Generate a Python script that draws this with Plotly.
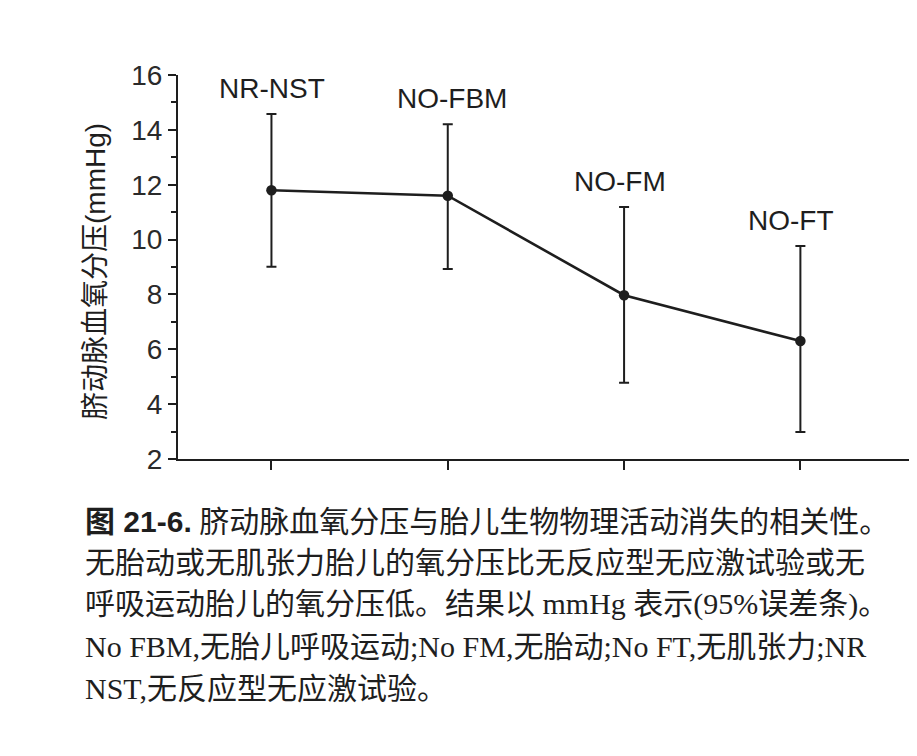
import plotly.graph_objects as go

# ---- data ----
categories = ["NR-NST", "NO-FBM", "NO-FM", "NO-FT"]
means = [11.80, 11.60, 7.97, 6.30]
upper = [14.58, 14.20, 11.19, 9.77]
lower = [9.01, 8.93, 4.78, 2.98]
y_ticks = [2, 4, 6, 8, 10, 12, 14, 16]
y_title = "脐动脉血氧分压(mmHg)"
caption_lines = [
    '<span style="font-family:Liberation Sans,Noto Sans CJK SC;font-weight:bold">图 21-6.</span> 脐动脉血氧分压与胎儿生物物理活动消失的相关性。',
    "无胎动或无肌张力胎儿的氧分压比无反应型无应激试验或无",
    "呼吸运动胎儿的氧分压低。结果以 mmHg 表示(95%误差条)。",
    "No FBM,无胎儿呼吸运动;No FM,无胎动;No FT,无肌张力;NR",
    "NST,无反应型无应激试验。",
]

# ---- layout geometry (page pixels; the page body has an 8px margin) ----
OFF = 8
FW, FH = 917 - OFF, 756 - 2 * OFF
L, R, T, B = 178 - OFF, 915 - OFF, 75 - OFF, 459 - OFF
PW, PH = R - L, B - T


def px(x):
    return (x - OFF - L) / PW


def py(y):
    return (B - (y - OFF)) / PH


ink = "#1e1e1e"
err_plus = [u - m for u, m in zip(upper, means)]
err_minus = [m - l for m, l in zip(means, lower)]

fig = go.Figure()
fig.add_trace(go.Scatter(
    x=categories, y=means, mode="lines+markers",
    line=dict(color=ink, width=2.6),
    marker=dict(color=ink, size=10.5),
    error_y=dict(type="data", array=err_plus, arrayminus=err_minus,
                 color=ink, thickness=2, width=5),
    showlegend=False, cliponaxis=False,
))

label_shift = [1, 4, -4, -9]
annotations = []
for c, u, dx in zip(categories, upper, label_shift):
    annotations.append(dict(
        x=c, y=u, xref="x", yref="y", text=c, showarrow=False,
        xanchor="center", yanchor="bottom", yshift=8, xshift=dx,
        font=dict(family="Liberation Sans, Arial, sans-serif", size=28, color=ink),
    ))

annotations.append(dict(
    x=px(95), y=py(272), xref="paper", yref="paper", text=y_title,
    textangle=-90, showarrow=False, xanchor="center", yanchor="middle",
    font=dict(family="Liberation Sans, Noto Sans CJK SC", size=28, color=ink),
))

line_y = [521, 562, 604, 646, 688]
for txt, yy in zip(caption_lines, line_y):
    annotations.append(dict(
        x=px(83), y=py(yy), xref="paper", yref="paper", text=txt,
        showarrow=False, xanchor="left", yanchor="middle",
        font=dict(family="Liberation Serif, Noto Sans CJK SC", size=30, color=ink),
    ))

fig.update_layout(
    width=FW, height=FH,
    margin=dict(l=L, r=FW - R, t=T, b=FH - B),
    paper_bgcolor="white", plot_bgcolor="white",
    annotations=annotations,
    xaxis=dict(
        type="category", range=[-0.53, 3.65],
        showgrid=False, zeroline=False,
        showline=True, linecolor=ink, linewidth=2,
        ticks="outside", ticklen=9, tickwidth=2, tickcolor=ink,
        showticklabels=False,
    ),
    yaxis=dict(
        range=[2, 16], tickvals=y_ticks,
        showgrid=False, zeroline=False,
        showline=True, linecolor=ink, linewidth=2,
        ticks="outside", ticklen=8, tickwidth=2, tickcolor=ink,
        tickfont=dict(family="Liberation Sans, Arial, sans-serif", size=28, color="#2a2a2a"),
        minor=dict(dtick=1, tick0=1, ticks="outside", ticklen=5, tickwidth=2, tickcolor=ink),
    ),
)

fig.write_html("out.html")
